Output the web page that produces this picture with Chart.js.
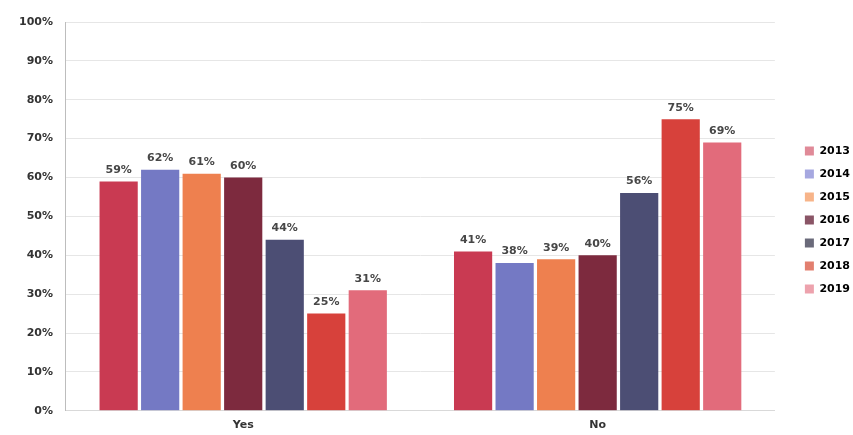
<!DOCTYPE html>
<html>
<head>
<meta charset="utf-8">
<script src="https://cdn.jsdelivr.net/npm/chart.js@4"></script>
<style>
  html, body { margin: 0; padding: 0; background: #fff; }
  #wrap { width: 853px; height: 435px; }
</style>
</head>
<body>
<div id="wrap"><canvas id="chart" width="853" height="435"></canvas></div>
<script>
// Answers on the x axis
const categories = ['Yes', 'No'];

// Survey years, one series each
const years = ['2013', '2014', '2015', '2016', '2017', '2018', '2019'];

// Percentages per year: [Yes, No]
const values2013 = [59, 41];
const values2014 = [62, 38];
const values2015 = [61, 39];
const values2016 = [60, 40];
const values2017 = [44, 56];
const values2018 = [25, 75];
const values2019 = [31, 69];

// y axis ticks
const yTicks = [0, 10, 20, 30, 40, 50, 60, 70, 80, 90, 100];

const seriesValues = [values2013, values2014, values2015, values2016, values2017, values2018, values2019];
const barColors = ['#c93a52', '#7479c4', '#ee804f', '#7d2a3e', '#4c4e74', '#d7413b', '#e26b7b'];
const legendColors = ['#e08a98', '#a6a8e0', '#f7b489', '#8a5566', '#6a6a7a', '#e27f6f', '#eda2ad'];

const fontFamily = '"DejaVu Sans", Verdana, sans-serif';

// Draws the value above each bar
const barLabels = {
    id: 'barLabels',
    afterDatasetsDraw(chart) {
        const ctx = chart.ctx;
        ctx.save();
        ctx.font = 'bold 11px ' + fontFamily;
        ctx.fillStyle = '#474747';
        ctx.textAlign = 'center';
        ctx.textBaseline = 'bottom';
        chart.data.datasets.forEach((ds, i) => {
            chart.getDatasetMeta(i).data.forEach((bar, j) => {
                ctx.fillText(ds.data[j] + '%', bar.x, bar.y - 6);
            });
        });
        ctx.restore();
    }
};

// Leaves a wider gap between the plot and the legend, and lifts the legend a little
const legendGap = {
    id: 'legendGap',
    beforeInit(chart) {
        const legend = chart.legend;
        const fit = legend.fit;
        legend.fit = function () {
            fit.call(this);
            this.width += 11;
        };
    },
    afterLayout(chart) {
        chart.legend.left += 18;
        chart.legend.top -= 7;
        chart.legend.bottom -= 7;
    }
};

const datasets = years.map((year, i) => ({
    label: year,
    data: seriesValues[i],
    backgroundColor: barColors[i],
    borderWidth: 0,
    categoryPercentage: 0.82,
    barPercentage: 0.92
}));

new Chart(document.getElementById('chart').getContext('2d'), {
    type: 'bar',
    data: { labels: categories, datasets: datasets },
    options: {
        responsive: false,
        animation: false,
        layout: { padding: { top: 22, left: 6, right: 0, bottom: 3 } },
        scales: {
            x: {
                grid: { display: false },
                border: { display: true, color: '#d9d9d9' },
                ticks: {
                    color: '#333',
                    padding: 0,
                    font: { family: fontFamily, size: 11, weight: 'bold' }
                }
            },
            y: {
                min: 0,
                max: 100,
                afterBuildTicks: axis => { axis.ticks = yTicks.map(v => ({ value: v })); },
                grid: { color: '#e6e6e6', drawTicks: false },
                border: { display: true, color: '#bdbdbd' },
                ticks: {
                    color: '#333',
                    padding: 13,
                    font: { family: fontFamily, size: 11, weight: 'bold' },
                    callback: v => v + '%'
                }
            }
        },
        plugins: {
            tooltip: { enabled: false },
            legend: {
                position: 'right',
                labels: {
                    boxWidth: 9,
                    boxHeight: 9,
                    padding: 12,
                    color: '#333',
                    font: { family: fontFamily, size: 11, weight: 'bold' },
                    generateLabels: chart => chart.data.datasets.map((ds, i) => ({
                        text: ds.label,
                        fillStyle: legendColors[i],
                        strokeStyle: legendColors[i],
                        lineWidth: 0,
                        datasetIndex: i
                    }))
                }
            }
        }
    },
    plugins: [barLabels, legendGap]
});
</script>
</body>
</html>
